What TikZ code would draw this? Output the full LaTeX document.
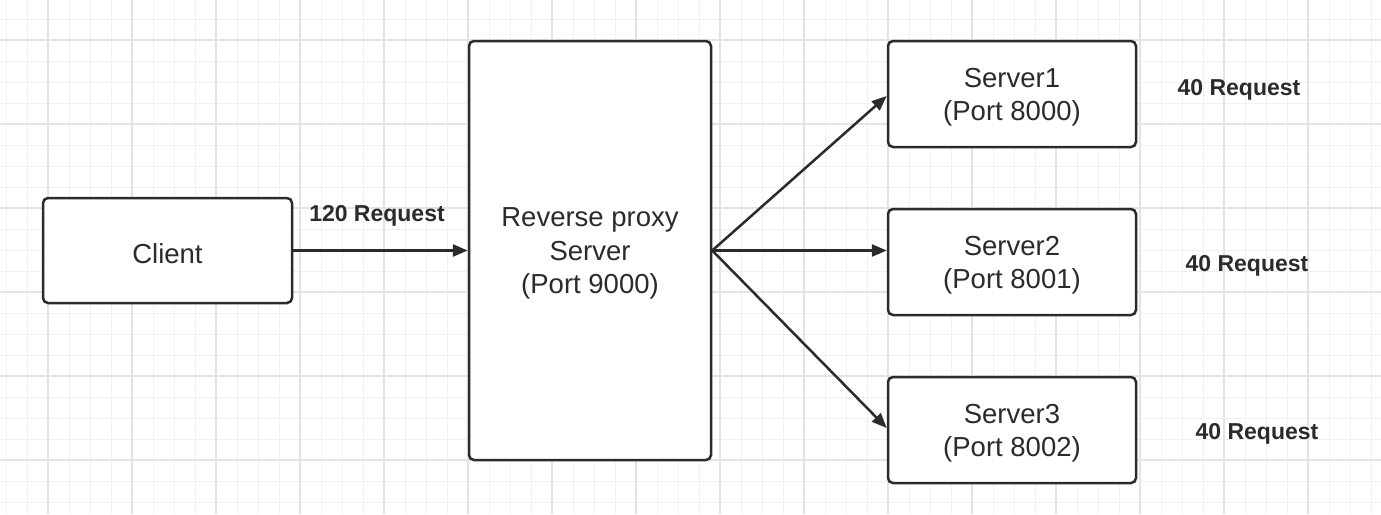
\documentclass[tikz,border=0pt]{standalone}
\usepackage{fontspec}
\setmainfont{Liberation Sans}
\usetikzlibrary{arrows.meta}
\definecolor{minorgrid}{HTML}{F1F1F1}
\definecolor{majorgrid}{HTML}{E4E4E4}
\definecolor{ink}{HTML}{2B2B2B}
\tikzset{
  box/.style={draw=ink, line width=2.5pt, rounded corners=5pt, fill=white,
    inner sep=0pt},
  boxtext/.style={align=center, inner sep=0pt, text=ink, yshift=-3pt,
    font=\fontsize{27.5}{33.5}\selectfont},
  lbl/.style={font=\bfseries\fontsize{23}{27}\selectfont, text=ink, inner sep=0pt},
  conn/.style={draw=ink, line width=2.5pt, -{Triangle[length=15pt,width=12pt]}}
}
\begin{document}
\begin{tikzpicture}[x=1pt,y=-1pt]
\useasboundingbox (0,0) rectangle (1381,514);
\fill[white] (0,0) rectangle (1381,514);
% grid
\foreach \i in {0,...,66} {
  \draw[minorgrid, line width=1pt] ({6+21*\i},0) -- ({6+21*\i},514);
}
\foreach \j in {0,...,25} {
  \draw[minorgrid, line width=1pt] (0,{-2+21*\j}) -- (1381,{-2+21*\j});
}
\foreach \i in {0,...,16} {
  \draw[majorgrid, line width=1.3pt] ({48+84*\i},0) -- ({48+84*\i},514);
}
\foreach \j in {0,...,6} {
  \draw[majorgrid, line width=1.3pt] (0,{40+84*\j}) -- (1381,{40+84*\j});
}
% nodes
\node[box, minimum width=249pt, minimum height=105pt,
  label={[boxtext]center:Client}] (client) at (167.5,250.5) {};
\node[box, minimum width=242pt, minimum height=419pt,
  label={[boxtext]center:{Reverse proxy\\Server\\(Port 9000)}}] (proxy) at (590,250.5) {};
\node[box, minimum width=248pt, minimum height=106pt,
  label={[boxtext]center:{Server1\\(Port 8000)}}] (s1) at (1012,94) {};
\node[box, minimum width=248pt, minimum height=106pt,
  label={[boxtext]center:{Server2\\(Port 8001)}}] (s2) at (1012,262) {};
\node[box, minimum width=248pt, minimum height=106pt,
  label={[boxtext]center:{Server3\\(Port 8002)}}] (s3) at (1012,430) {};
% labels
\node[lbl] (l0) at (377,216) {120 Request};
\node[lbl] (l1) at (1239,90) {40 Request};
\node[lbl] (l2) at (1247,266) {40 Request};
\node[lbl] (l3) at (1257,434) {40 Request};
% connectors
\draw[conn] (client.east) -- (proxy.west);
\draw[conn] (proxy.east) -- ([yshift=-2pt]s1.west);
\draw[conn] (proxy.east) -- (proxy.east -| s2.west);
\draw[conn] (proxy.east) -- ([yshift=2pt]s3.west);
\end{tikzpicture}
\end{document}
